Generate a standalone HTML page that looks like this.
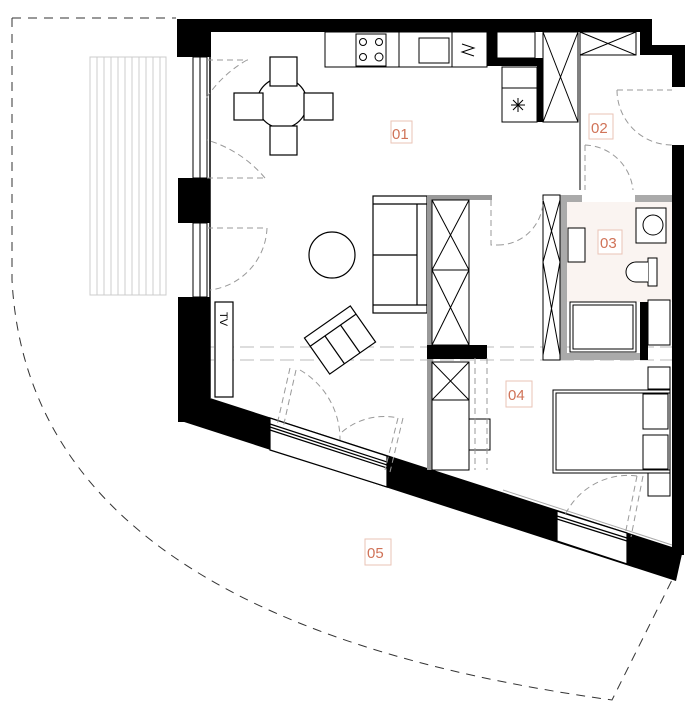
<!DOCTYPE html>
<html><head><meta charset="utf-8"><style>
html,body{margin:0;padding:0;background:#fff;}
svg{display:block;}
.lbl{font-family:"Liberation Sans",sans-serif;font-size:15px;fill:#d07358;}
</style></head><body>
<svg width="700" height="721" viewBox="0 0 700 721" xmlns="http://www.w3.org/2000/svg">
<!-- terrace outline -->
<g fill="none" stroke="#333" stroke-width="1" stroke-dasharray="9,7">
<path d="M12 18 L176 18"/>
<path d="M12 18 L12 280 Q30 620 612 700 L672 580"/>
</g>
<!-- terrace boards -->
<g stroke="#ccc" stroke-width="1">
<rect x="90" y="57" width="76" height="238" fill="none"/>
<path d="M97 57V295M104 57V295M111 57V295M118 57V295M125 57V295M132 57V295M139 57V295M146 57V295M153 57V295M160 57V295"/>
</g>
<!-- beam dashed lines -->
<g stroke="#bbb" stroke-width="1" stroke-dasharray="14,6" fill="none">
<path d="M200 347 H672"/><path d="M200 360 H672"/>
</g>
<!-- outer walls -->
<g fill="#000">
<rect x="177" y="19" width="471" height="13"/>
<rect x="177" y="19" width="34" height="38"/>
<rect x="640" y="19" width="12" height="36"/>
<rect x="648" y="45" width="37" height="10"/>
<rect x="672" y="45" width="13" height="42"/>
<rect x="672" y="145" width="12" height="410"/>
<rect x="178" y="178" width="32" height="45"/>
<rect x="178" y="297" width="32" height="125"/>
<polygon points="178,398 210,398 672,547 684,545 676,581 178,420"/>
</g>
<!-- diagonal wall windows -->
<g stroke="#000" fill="#fff" stroke-width="1.2">
<polygon points="270,418 387,456 387,487 270,450"/>
<line x1="270" y1="424" x2="387" y2="462"/><line x1="270" y1="427" x2="387" y2="465"/><line x1="270" y1="430" x2="387" y2="468"/>
<polygon points="557,511 627,533 627,564 557,541"/>
<line x1="557" y1="516" x2="627" y2="538"/><line x1="557" y1="519" x2="627" y2="541"/>
</g>
<line x1="503" y1="490" x2="672" y2="545" stroke="#aaa"/>
<!-- left windows -->
<g stroke="#000" fill="none" stroke-width="1">
<rect x="193" y="57" width="14" height="121"/><line x1="200" y1="57" x2="200" y2="178"/>
<rect x="193" y="223" width="14" height="74"/><line x1="200" y1="223" x2="200" y2="297"/>
<line x1="210" y1="32" x2="210" y2="398" stroke-width="1.5"/>
</g>
<!-- kitchen -->
<g stroke="#000" fill="#fff" stroke-width="1">
<rect x="325" y="32" width="162" height="35"/>
<rect x="356" y="34" width="30" height="32"/>
<circle cx="363" cy="42" r="3.5"/><circle cx="379" cy="42" r="3.5"/><circle cx="363" cy="57" r="3.5"/><circle cx="379" cy="57" r="4"/>
<line x1="399" y1="32" x2="399" y2="67"/><line x1="452" y1="32" x2="452" y2="67"/>
<rect x="419" y="38" width="30" height="25"/>
<path d="M462 44 L474 48 L462 52 L474 56" fill="none"/>
<rect x="497" y="32" width="38" height="26"/>
<rect x="502" y="67" width="35" height="55"/><line x1="502" y1="88" x2="537" y2="88"/>
<path d="M511 105h14M518 98v14M513 100l10 10M523 100l-10 10" fill="none"/>
<rect x="543" y="32" width="35" height="90"/><path d="M543 32L578 122M578 32L543 122" fill="none"/>
<rect x="580" y="32" width="56" height="23"/><path d="M580 32L636 55M636 32L580 55" fill="none"/>
</g>
<g fill="#000"><rect x="487" y="32" width="10" height="33"/><rect x="487" y="58" width="56" height="8"/><rect x="537" y="58" width="6" height="64"/></g>
<line x1="580" y1="55" x2="580" y2="190" stroke="#000"/>
<!-- dining -->
<g stroke="#000" fill="#fff" stroke-width="1.2">
<circle cx="282" cy="103" r="25"/>
<rect x="270" y="57" width="27" height="29"/><rect x="270" y="126" width="27" height="29"/>
<rect x="234" y="93" width="29" height="27"/><rect x="304" y="93" width="29" height="27"/>
<circle cx="332" cy="255" r="23"/>
<rect x="373" y="196" width="54" height="117"/><line x1="373" y1="204" x2="427" y2="204"/><line x1="417" y1="204" x2="417" y2="305"/><line x1="373" y1="255" x2="417" y2="255"/><line x1="373" y1="305" x2="427" y2="305"/>
<g transform="rotate(-35 340 340)"><rect x="312" y="318" width="56" height="44"/><line x1="312" y1="328" x2="368" y2="328"/><line x1="330" y1="328" x2="330" y2="362"/><line x1="349" y1="328" x2="349" y2="362"/></g>
<rect x="215" y="302" width="18" height="95"/>
</g>
<text class="lbl" style="fill:#000;font-size:11px" transform="translate(220,312) rotate(90)">TV</text>
<!-- central partition -->
<g fill="#999"><rect x="427" y="195" width="6" height="275"/><rect x="427" y="195" width="65" height="5"/></g>
<g stroke="#000" fill="#fff" stroke-width="1">
<rect x="432" y="200" width="37" height="70"/><path d="M432 200L469 270M469 200L432 270"/>
<rect x="432" y="270" width="37" height="75"/><path d="M432 270L469 345M469 270L432 345"/>
<rect x="432" y="362" width="37" height="38"/><path d="M432 362L469 400M469 362L432 400"/>
<rect x="432" y="400" width="37" height="70"/>
<rect x="469" y="419" width="21" height="31"/>
</g>
<rect x="427" y="345" width="60" height="14" fill="#000"/>
<!-- bathroom -->
<rect x="567" y="202" width="105" height="100" fill="#faf4f1"/>
<g fill="#aaa"><rect x="560" y="195" width="7" height="165"/><rect x="560" y="195" width="22" height="7"/><rect x="635" y="195" width="37" height="7"/><rect x="560" y="353" width="80" height="7"/></g>
<g stroke="#000" fill="#fff" stroke-width="1">
<rect x="543" y="195" width="17" height="165"/><path d="M543 200L560 262M560 200L543 262M543 262L560 355M560 262L543 355"/>
<rect x="568" y="228" width="17" height="34"/>
<rect x="636" y="208" width="30" height="35"/><circle cx="653" cy="225" r="10"/>
<rect x="648" y="258" width="9" height="28"/><path d="M648 262 H636 a10 10 0 0 0 0 20 H648"/>
<rect x="570" y="302" width="66" height="50"/><rect x="573" y="305" width="60" height="44"/>
<rect x="648" y="300" width="22" height="45" fill="#fff"/>
</g>
<rect x="640" y="302" width="8" height="58" fill="#000"/>
<!-- bedroom -->
<g stroke="#000" fill="#fff" stroke-width="1">
<rect x="648" y="367" width="22" height="22"/><rect x="648" y="472" width="22" height="24"/>
<rect x="553" y="390" width="117" height="83"/><rect x="556" y="393" width="114" height="77"/>
<rect x="643" y="394" width="25" height="35"/><rect x="643" y="435" width="25" height="34"/>
</g>
<!-- doors dashed -->
<g stroke="#999" fill="none" stroke-width="1" stroke-dasharray="6,4">
<path d="M207 60 H248 M207 178 H265"/><path d="M247 60 A120 120 0 0 0 205 100"/><path d="M265 178 A120 120 0 0 0 207 140"/>
<path d="M207 228 H267"/><path d="M267 228 A65 65 0 0 1 210 290"/>
<path d="M491 200 V245 H498"/><path d="M498 245 A45 45 0 0 0 543 200"/>
<path d="M585 145 V190"/><path d="M585 145 A50 50 0 0 1 633 190"/>
<path d="M617 90 H672"/><path d="M617 90 A55 55 0 0 0 672 145"/>
<path d="M290 368 L277 425 M296 370 L283 428"/><path d="M300 370 A80 80 0 0 1 340 440"/>
<path d="M398 418 L385 470 M403 418 L390 472"/><path d="M342 432 A65 65 0 0 1 398 418"/>
<path d="M475 358 V470 M487 358 V470"/>
<path d="M637 476 L625 535 M643 476 L631 537"/><path d="M637 476 A70 70 0 0 0 565 515"/>
</g>
<!-- labels -->
<g fill="#fff" stroke="#eac3b6" stroke-width="1">
<rect x="391" y="121" width="21" height="22"/>
<rect x="589" y="114" width="24" height="25"/>
<rect x="598" y="230" width="24" height="24"/>
<rect x="506" y="381" width="26" height="26"/>
<rect x="365" y="539" width="26" height="26"/>
</g>
<text class="lbl" x="392" y="139">01</text>
<text class="lbl" x="591" y="133">02</text>
<text class="lbl" x="600" y="248">03</text>
<text class="lbl" x="508" y="400">04</text>
<text class="lbl" x="367" y="558">05</text>
</svg>
</body></html>
